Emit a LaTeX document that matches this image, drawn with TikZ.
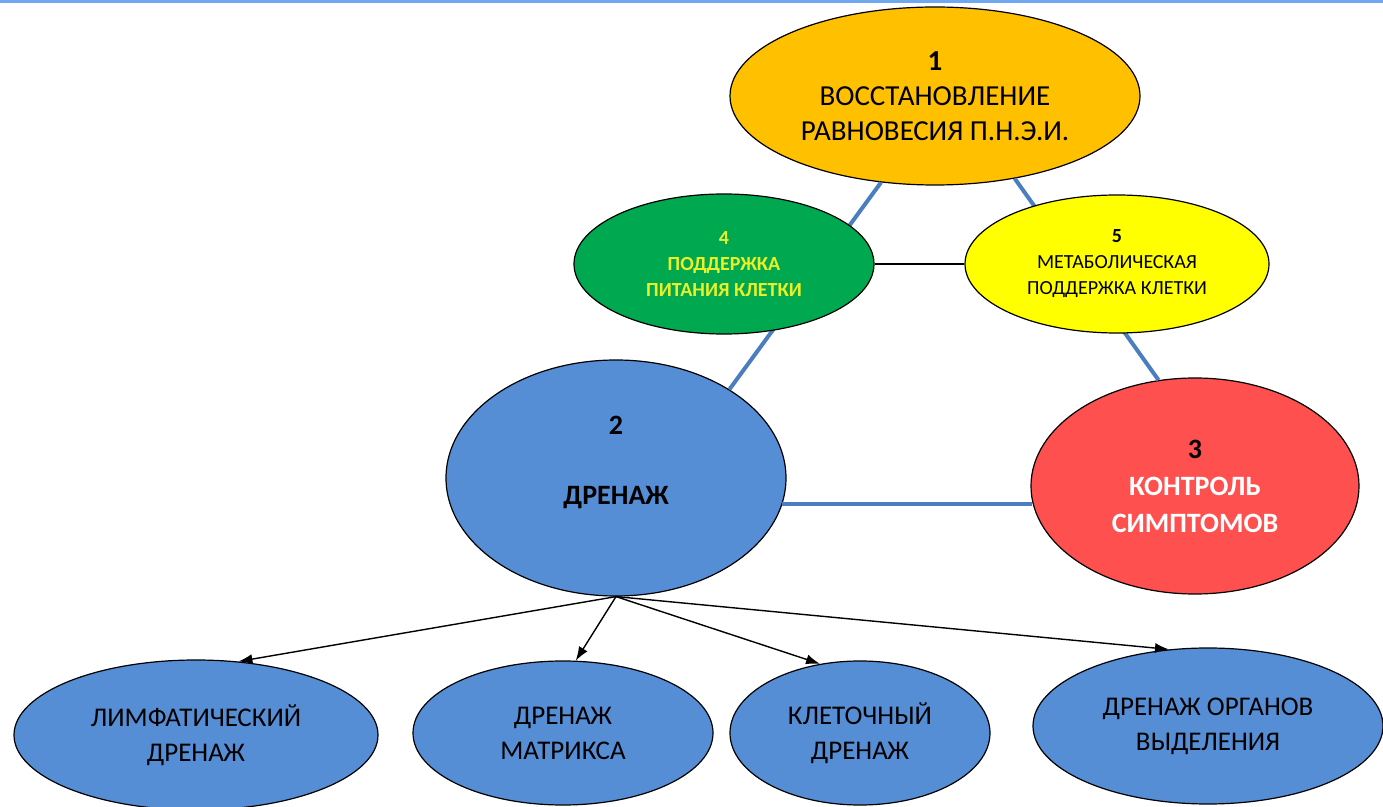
\documentclass[tikz,border=0pt]{standalone}
\usepackage{fontspec}
\setmainfont{Carlito}
\usetikzlibrary{shapes.geometric,arrows.meta}
\definecolor{barblue}{RGB}{111,168,241}
\definecolor{sunorange}{RGB}{255,192,0}
\definecolor{leafgreen}{RGB}{0,168,80}
\definecolor{textyellow}{RGB}{235,240,40}
\definecolor{lemon}{RGB}{255,255,0}
\definecolor{skyblue}{RGB}{85,142,213}
\definecolor{alertred}{RGB}{255,80,80}
\definecolor{linkblue}{RGB}{74,126,193}
\tikzset{
  bubble/.style={ellipse, draw=black, line width=0.6pt, inner sep=0pt, align=center},
  tri/.style={linkblue, line width=2pt},
}
\newcommand{\bubble}[7]{\node[bubble, minimum width=#4pt, minimum height=#5pt, #6] (#1) at (#2,#3) {#7};}
\newcommand{\link}[2]{\draw[tri] (#1) -- (#2);}
\newcommand{\branch}[2]{\draw[line width=0.7pt,->,>={Latex[length=7pt,width=5pt]}] (#1) -- (#2);}

\begin{document}
\begin{tikzpicture}[x=0.5pt,y=-0.5pt]
    \useasboundingbox (0,0) rectangle (1383,807);
    \fill[barblue] (0,0) rectangle (1383,3);
    % triangle 1-2-3
    \bubble{n1}{935}{96}{205}{89}{fill=sunorange,font=\fontsize{14.5}{17.5}\selectfont}{\textbf{1}\\ВОССТАНОВЛЕНИЕ\\РАВНОВЕСИЯ П.Н.Э.И.}
    \bubble{n2}{616}{478}{170}{118}{fill=skyblue,font=\fontsize{14}{17.5}\selectfont\bfseries}{2\\~\\ДРЕНАЖ\\~}
    \bubble{n3}{1195}{486}{164}{108}{fill=alertred,text=white,font=\fontsize{14}{18.5}\selectfont\bfseries}{\textcolor{black}{3}\\КОНТРОЛЬ\\СИМПТОМОВ}
    \link{n1.-122}{n2.38} \link{n1.-46}{n3.109} \link{n2.-9.5}{n2.-9.5 -| n3.186.5}
    % support
    \bubble{n4}{724}{264}{150}{70}{fill=leafgreen,text=textyellow,font=\fontsize{10}{13}\selectfont\bfseries}{4\\ПОДДЕРЖКА\\ПИТАНИЯ КЛЕТКИ}
    \bubble{n5}{1117}{264}{152}{69}{fill=lemon,font=\fontsize{10}{13}\selectfont}{\textbf{5}\\МЕТАБОЛИЧЕСКАЯ\\ПОДДЕРЖКА КЛЕТКИ}
    \draw[line width=0.6pt] (n4.east) -- (n5.west);
    % drainage kinds
    \bubble{lym}{196}{735}{182}{75}{fill=skyblue,font=\fontsize{13.5}{17.5}\selectfont}{ЛИМФАТИЧЕСКИЙ\\ДРЕНАЖ}
    \bubble{mat}{563}{733}{150}{72}{fill=skyblue,font=\fontsize{13.5}{17.5}\selectfont}{ДРЕНАЖ\\МАТРИКСА}
    \bubble{cel}{860}{733}{130}{72}{fill=skyblue,font=\fontsize{13.5}{17.5}\selectfont}{КЛЕТОЧНЫЙ\\ДРЕНАЖ}
    \bubble{exc}{1208}{726}{175}{78}{fill=skyblue,font=\fontsize{13.5}{17.5}\selectfont}{ДРЕНАЖ ОРГАНОВ\\ВЫДЕЛЕНИЯ}
    \branch{n2.south}{lym.60} \branch{n2.south}{mat.80}
    \branch{n2.south}{cel.120} \branch{n2.south}{exc.117}
\end{tikzpicture}
\end{document}
